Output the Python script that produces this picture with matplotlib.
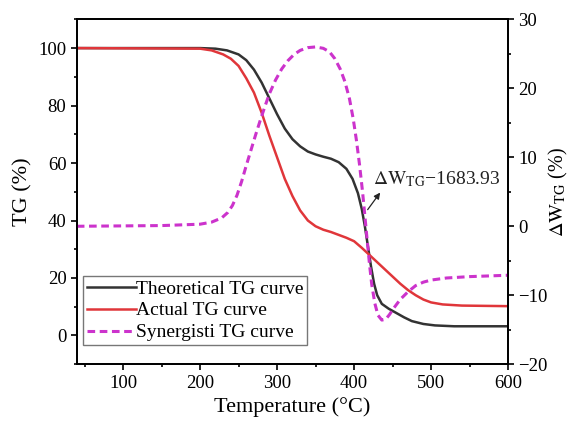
import matplotlib
matplotlib.use('Agg')
import matplotlib.pyplot as plt

# values
temp_theo = [40, 200, 220, 235, 250, 260, 270, 280, 290, 300, 310, 320, 330, 340, 350, 360, 370, 380, 390, 398, 405, 410,
             414, 418, 422, 426, 430, 436, 445, 455, 465, 475, 490, 505, 530, 600]
tg_theo = [100, 100, 99.8, 99.2, 97.8, 95.8, 92.5, 88, 82.5, 77, 72, 68.3, 65.8, 64, 63, 62.2, 61.5, 60.3, 58, 54.5, 49.5, 44,
           38, 31, 24, 18, 14, 11, 9.3, 7.8, 6.3, 5, 4, 3.5, 3.2, 3.2]

temp_act = [40, 200, 215, 230, 240, 250, 260, 270, 280, 290, 300, 310, 320, 330, 340, 350, 360, 370, 380, 390, 400, 410,
            420, 430, 440, 450, 460, 470, 480, 490, 500, 515, 540, 600]
tg_act = [100, 99.8, 99.2, 97.8, 96.3, 93.8, 89.5, 84.5, 77.5, 69.5, 62, 54.5, 48.5, 43.5, 40, 38, 36.8, 36, 35, 34, 32.8, 30.5,
          28, 25.5, 23, 20.5, 18, 15.8, 14, 12.5, 11.5, 10.8, 10.4, 10.2]

temp_syn = [40, 150, 200, 215, 228, 236, 242, 248, 254, 260, 266, 272, 278, 284, 290, 298, 306, 314, 322, 330, 340, 350,
            360, 368, 375, 382, 388, 394, 399, 403, 407, 411, 414, 417, 420, 423, 427, 431, 436, 441, 446, 452, 460, 470,
            480, 490, 500, 520, 550, 600]
dw_syn = [0, 0.1, 0.3, 0.6, 1.2, 2, 3, 4.5, 6.5, 8.8, 11, 13.2, 15.3, 17.3, 19.2, 21.2, 22.8, 24, 24.9, 25.5, 25.9, 26,
          25.8, 25.3, 24.3, 22.8, 21, 18.5, 15.5, 12.5, 9, 5, 1.5, -2, -5.5, -8.5, -11.2, -12.9, -13.6, -13.5, -12.8, -11.8,
          -10.6, -9.5, -8.6, -8.1, -7.8, -7.5, -7.3, -7.1]

plt.rcParams['font.family'] = ['Liberation Serif', 'DejaVu Serif']
plt.rcParams['mathtext.fontset'] = 'stix'

fig = plt.figure(figsize=(5.69, 4.30), dpi=100)
ax = fig.add_axes([0.135, 0.153, 0.758, 0.802])
ax2 = ax.twinx()

l1, = ax.plot(temp_theo, tg_theo, color='#333333', lw=1.8, label='Theoretical TG curve')
l2, = ax.plot(temp_act, tg_act, color='#e0363a', lw=1.8, label='Actual TG curve')
l3, = ax2.plot(temp_syn, dw_syn, color='#cc33cc', lw=2.2, ls=(0, (2.5, 1.5)), label='Synergisti TG curve')

ax.set_xlim(40, 600)
ax.set_ylim(-10, 110)
ax2.set_ylim(-20, 30)
ax.set_xticks([100, 200, 300, 400, 500, 600])
ax.set_xticks(range(50, 600, 100), minor=True)
ax.set_yticks([0, 20, 40, 60, 80, 100])
ax.set_yticks(range(-10, 111, 20), minor=True)
ax2.set_yticks([-20, -10, 0, 10, 20, 30])
ax2.set_yticks([-15, -5, 5, 15, 25], minor=True)

for a in (ax, ax2):
    a.tick_params(which='major', direction='out', length=4, width=1.2, labelsize=13.5)
    a.tick_params(which='minor', direction='out', length=2, width=1.2)
    for s in a.spines.values():
        s.set_linewidth(1.3)

ax.set_xlabel('Temperature (°C)', fontsize=16)
ax.set_ylabel('TG (%)', fontsize=16)
ax2.set_ylabel(r'$\Delta\mathrm{W}_{\mathrm{TG}}$ (%)', fontsize=14.5, labelpad=-1)

ax.annotate('', xy=(436, 50.5), xytext=(415.5, 43),
            arrowprops=dict(arrowstyle='-|>', color='#222222', lw=0.9, mutation_scale=9))
ax.text(425, 52.5, r'$\Delta\mathrm{W}_{\mathrm{TG}}$' + '\u22121683.93', fontsize=14, color='#222222')

leg = ax.legend(handles=[l1, l2, l3], loc='lower left', bbox_to_anchor=(0.015, 0.055),
                fontsize=14, frameon=True, fancybox=False, framealpha=1,
                edgecolor='#777777', handlelength=2.5, handletextpad=0.0,
                borderpad=0.2, labelspacing=0.22, borderaxespad=0)
leg.get_frame().set_linewidth(1.0)

fig.savefig('out.png', dpi=100)
